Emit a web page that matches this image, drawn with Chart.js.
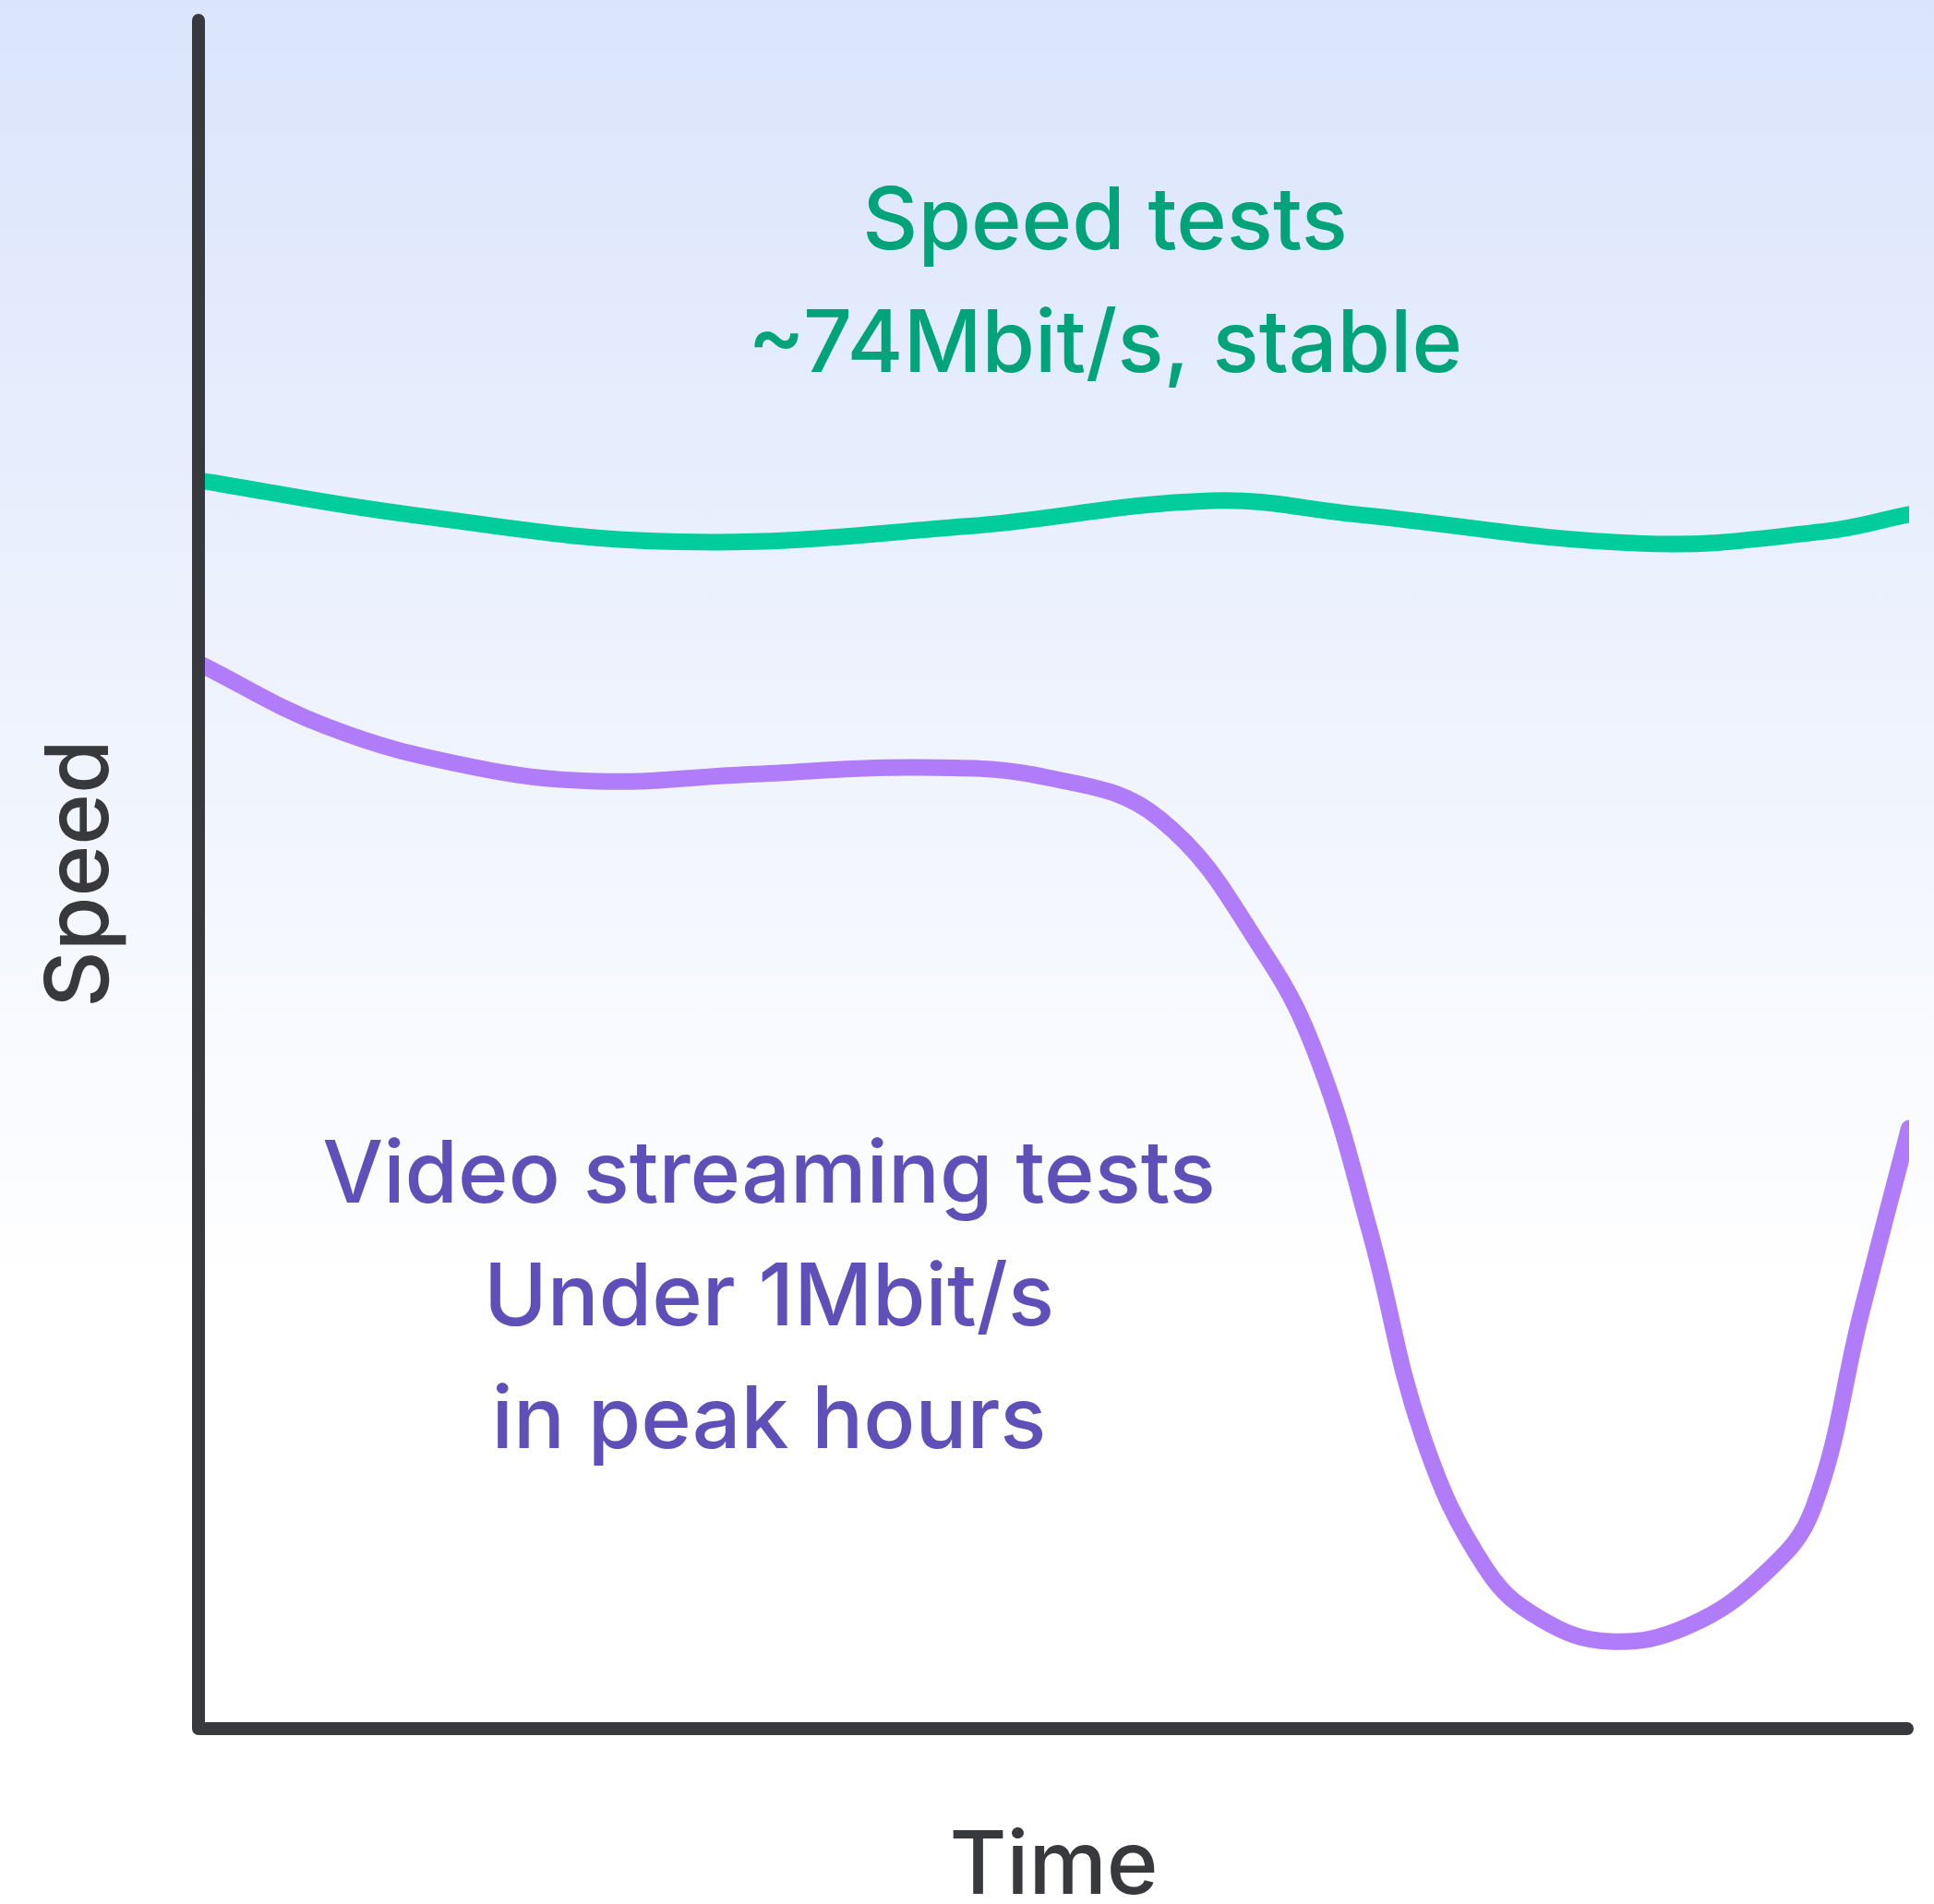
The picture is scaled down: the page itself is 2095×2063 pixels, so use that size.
<!DOCTYPE html>
<html>
<head>
<meta charset="utf-8">
<script src="https://cdn.jsdelivr.net/npm/chart.js"></script>
<style>
  html, body { margin: 0; padding: 0; }
  body {
    width: 2095px; height: 2063px; overflow: hidden;
    background: linear-gradient(to bottom, #dae4fb 0px, #ffffff 1400px, #ffffff 2063px);
  }
  #speed_chart { display: block; }
</style>
</head>
<body>
<canvas id="speed_chart" width="2095" height="2063"></canvas>
<script>
// no units on this chart, both axes just run 0..100
const speedTestTime = [0, 12.3, 28, 44.9, 59.2, 67.7, 84.4, 95, 100];
const speedTestSpeed = [73, 71, 69.4, 70.3, 71.8, 71, 69.3, 70, 71];

const videoTestTime = [0, 7.5, 15.7, 23.2, 32.2, 42.2, 49.7, 56.2, 62.4, 65.5, 68.5, 71.6, 75.3, 78.5, 82.5, 87.1, 91.6, 94.4, 97.2, 100];
const videoTestSpeed = [62.3, 58.6, 56.3, 55.4, 55.8, 56.2, 55.6, 53.2, 45.2, 39, 29, 17, 9.3, 6.4, 5.1, 6, 9.1, 12.9, 24.3, 35.1];

const speedNote = ['Speed tests', '~74Mbit/s, stable'];
const videoNote = ['Video streaming tests', 'Under 1Mbit/s', 'in peak hours'];

const FONT = 'Inter, "Noto Sans", sans-serif';
const AXIS_COLOR = '#38393d';

// where the two notes sit (data units, centre of first baseline)
const notes = [
    { lines: speedNote, x: 53, y: 86.5, color: '#00a37a' },
    { lines: videoNote, x: 33.35, y: 30.76, color: '#5f50b9' }
];

function toPoints(xs, ys) {
    return xs.map((x, i) => ({ x: x, y: ys[i] }));
}

// axes with round caps, drawn over the lines like in the original
const axisLines = {
    id: 'axisLines',
    afterDatasetsDraw(chart) {
        const { ctx, chartArea } = chart;
        ctx.save();
        ctx.strokeStyle = AXIS_COLOR;
        ctx.lineWidth = 14;
        ctx.lineCap = 'round';
        ctx.lineJoin = 'round';
        ctx.beginPath();
        ctx.moveTo(chartArea.left, chartArea.top + 2);
        ctx.lineTo(chartArea.left, chartArea.bottom);
        ctx.lineTo(chartArea.right - 2, chartArea.bottom);
        ctx.stroke();
        ctx.restore();
    }
};

const noteText = {
    id: 'noteText',
    afterDraw(chart) {
        const ctx = chart.ctx;
        const xs = chart.scales.x;
        const ys = chart.scales.y;
        ctx.save();
        ctx.font = '500 93px ' + FONT;
        ctx.textAlign = 'center';
        ctx.textBaseline = 'alphabetic';
        notes.forEach(n => {
            ctx.fillStyle = n.color;
            const px = xs.getPixelForValue(n.x);
            const py = ys.getPixelForValue(n.y);
            n.lines.forEach((line, i) => {
                ctx.fillText(line, px, py + i * 133);
            });
        });
        ctx.restore();
    }
};

const ctx = document.getElementById('speed_chart');

new Chart(ctx, {
    type: 'line',
    data: {
        datasets: [
            {
                label: 'Speed tests',
                data: toPoints(speedTestTime, speedTestSpeed),
                borderColor: '#00cc9c',
                borderWidth: 18,
                borderCapStyle: 'round',
                borderJoinStyle: 'round',
                pointRadius: 0,
                tension: 0.4,
                fill: false
            },
            {
                label: 'Video streaming tests',
                data: toPoints(videoTestTime, videoTestSpeed),
                borderColor: '#b07cf9',
                borderWidth: 18,
                borderCapStyle: 'round',
                borderJoinStyle: 'round',
                pointRadius: 0,
                tension: 0.4,
                fill: false
            }
        ]
    },
    options: {
        responsive: false,
        animation: false,
        devicePixelRatio: 1,
        layout: { padding: { left: 0, right: 27, top: 20, bottom: 0 } },
        plugins: {
            legend: { display: false },
            tooltip: { enabled: false }
        },
        scales: {
            x: {
                type: 'linear',
                min: 0,
                max: 100,
                grid: { display: false },
                border: { display: false },
                ticks: { display: false },
                title: {
                    display: true,
                    text: 'Time',
                    color: AXIS_COLOR,
                    font: { family: FONT, size: 95, weight: 500, lineHeight: 0.8 },
                    padding: { top: 0, bottom: 2 }
                },
                afterFit: s => { s.height = 190; }
            },
            y: {
                min: 0,
                max: 100,
                grid: { display: false },
                border: { display: false },
                ticks: { display: false },
                title: {
                    display: true,
                    text: 'Speed',
                    color: AXIS_COLOR,
                    font: { family: FONT, size: 95, weight: 500, lineHeight: 0.8 },
                    padding: { top: 50, bottom: 0 }
                },
                afterFit: s => { s.width = 215; }
            }
        }
    },
    plugins: [axisLines, noteText]
});
</script>
</body>
</html>
